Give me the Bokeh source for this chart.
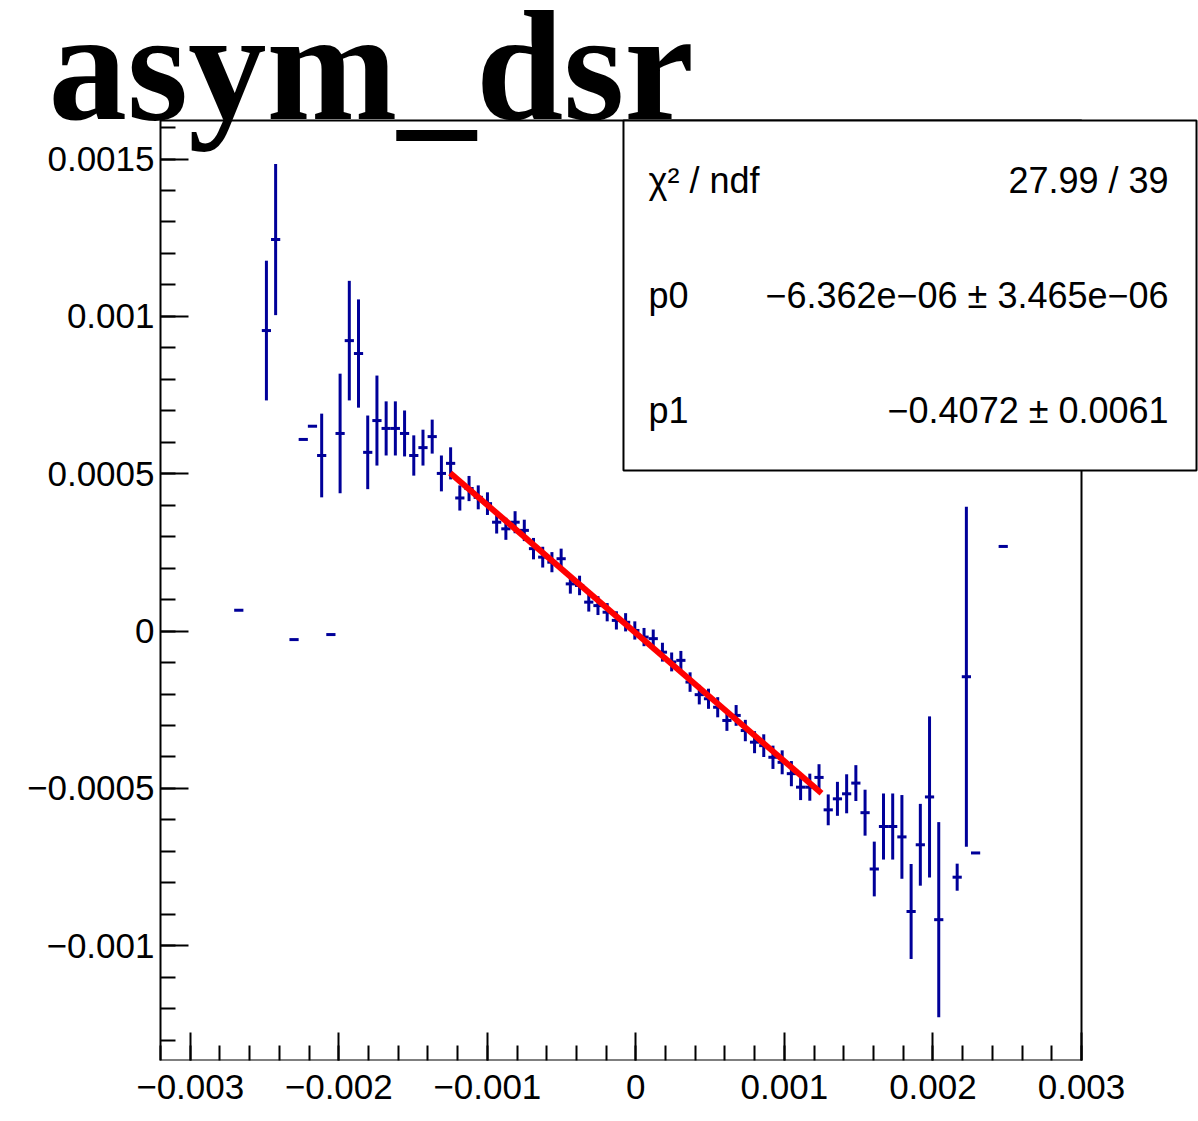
import numpy as np
from bokeh.plotting import figure
from bokeh.models import FixedTicker, Label, BoxAnnotation, Range1d, ColumnDataSource
from bokeh.embed import file_html
from bokeh.resources import INLINE

# ---------------- data ----------------
title_text = "asym_dsr"

x_centers = [
    -0.002673, -0.002487, -0.002425, -0.002301, -0.002239, -0.002177, -0.002115, -0.002053,
    -0.001991, -0.001929, -0.001867, -0.001805, -0.001743, -0.001681, -0.001619, -0.001557,
    -0.001495, -0.001433, -0.001371, -0.001309, -0.001247, -0.001185, -0.001123, -0.001061,
    -0.000999, -0.000937, -0.000875, -0.000813, -0.000751, -0.000689, -0.000627, -0.000565,
    -0.000503, -0.000441, -0.000379, -0.000317, -0.000255, -0.000193, -0.000131, -0.000069,
    -0.000007, 0.000055, 0.000117, 0.000179, 0.000241, 0.000303, 0.000365, 0.000427,
    0.000489, 0.000551, 0.000613, 0.000675, 0.000737, 0.000799, 0.000861, 0.000923,
    0.000985, 0.001047, 0.001109, 0.001171, 0.001233, 0.001295, 0.001357, 0.001419,
    0.001481, 0.001543, 0.001605, 0.001667, 0.001729, 0.001791, 0.001853, 0.001915,
    0.001977, 0.002039, 0.002163, 0.002225, 0.002287, 0.002473,
]

y_values = [
    0.000066, 0.000955, 0.001244, -0.000027, 0.000609, 0.000651, 0.000558, -0.000011,
    0.000628, 0.000923, 0.000882, 0.000568, 0.000669, 0.000644, 0.000644, 0.000628,
    0.000558, 0.000583, 0.000618, 0.000501, 0.000533, 0.000423, 0.000453, 0.000425,
    0.000405, 0.000346, 0.000325, 0.000346, 0.000320, 0.000262, 0.000235, 0.000219,
    0.000230, 0.000150, 0.000145, 0.000092, 0.000081, 0.000060, 0.000034, 0.000028,
    0.000002, -0.000019, -0.000024, -0.000067, -0.000098, -0.000093, -0.000162, -0.000202,
    -0.000215, -0.000242, -0.000284, -0.000268, -0.000316, -0.000353, -0.000364, -0.000401,
    -0.000417, -0.000453, -0.000496, -0.000496, -0.000465, -0.000568, -0.000533, -0.000517,
    -0.000483, -0.000577, -0.000756, -0.000621, -0.000621, -0.000654, -0.000891, -0.000679,
    -0.000527, -0.000917, -0.000782, -0.000145, -0.000705, 0.000269,
]

y_errors = [
    0.0, 0.000222, 0.000240, 0.0, 0.0, 0.0, 0.000133, 0.0,
    0.000190, 0.000190, 0.000172, 0.000117, 0.000143, 0.000086, 0.000086, 0.000073,
    0.000064, 0.000057, 0.000054, 0.000057, 0.000051, 0.000040, 0.000040, 0.000038,
    0.000036, 0.000036, 0.000035, 0.000035, 0.000034, 0.000034, 0.000033, 0.000032,
    0.000032, 0.000031, 0.000031, 0.000030, 0.000030, 0.000029, 0.000029, 0.000029,
    0.000029, 0.000029, 0.000029, 0.000030, 0.000030, 0.000030, 0.000031, 0.000031,
    0.000032, 0.000032, 0.000033, 0.000033, 0.000034, 0.000035, 0.000036, 0.000037,
    0.000038, 0.000040, 0.000041, 0.000043, 0.000042, 0.000049, 0.000054, 0.000062,
    0.000057, 0.000073, 0.000087, 0.000105, 0.000105, 0.000133, 0.000151, 0.000130,
    0.000256, 0.000310, 0.000043, 0.000540, 0.0, 0.0,
]

bin_half_width = 0.000031

fit_p0 = -6.362e-06
fit_p1 = -0.4072
fit_range = [-0.00125, 0.00125]

stats_labels = ["\u03c7\u00b2 / ndf", "p0", "p1"]
stats_values = ["27.99 / 39",
                "\u22126.362e\u221206 \u00b1 3.465e\u221206",
                "\u22120.4072 \u00b1 0.0061"]

x_ticks = [-0.003, -0.002, -0.001, 0.0, 0.001, 0.002, 0.003]
x_tick_labels = ["\u22120.003", "\u22120.002", "\u22120.001", "0", "0.001", "0.002", "0.003"]
y_ticks = [-0.001, -0.0005, 0.0, 0.0005, 0.001, 0.0015]
y_tick_labels = ["\u22120.001", "\u22120.0005", "0", "0.0005", "0.001", "0.0015"]

# histogram frame (axis ranges) and the wider drawing area around it
hist_x = [-0.0032, 0.003]
hist_y = [-0.0013645, 0.0016225]
view_x = [-0.0042771, 0.0037876]
view_y = [-0.0013645, 0.0020038]

# ---------------- figure ----------------
p = figure(width=1198, height=1121, output_backend="svg", toolbar_location=None,
           x_range=Range1d(*view_x), y_range=Range1d(*view_y),
           min_border_left=0, min_border_right=0, min_border_top=0, min_border_bottom=61)
p.xgrid.visible = False
p.ygrid.visible = False
p.background_fill_color = "white"
p.border_fill_color = "white"
p.outline_line_color = None

p.xaxis.ticker = FixedTicker(ticks=x_ticks,
                             minor_ticks=list(np.round(np.arange(-0.0032, 0.00301, 0.0002), 6)))
p.xaxis.major_label_overrides = {t: l for t, l in zip(x_ticks, x_tick_labels)}
p.yaxis.ticker = FixedTicker(ticks=y_ticks,
                             minor_ticks=list(np.round(np.arange(-0.0013, 0.00162, 0.0001), 6)))
p.yaxis.major_label_overrides = {t: l for t, l in zip(y_ticks, y_tick_labels)}
p.yaxis.fixed_location = hist_x[0]

for ax in (p.xaxis, p.yaxis):
    ax.axis_line_color = None
    ax.major_tick_in = 28
    ax.major_tick_out = 0
    ax.minor_tick_in = 15
    ax.minor_tick_out = 0
    ax.major_tick_line_width = 2
    ax.minor_tick_line_width = 2
    ax.major_tick_line_color = "black"
    ax.minor_tick_line_color = "black"
    ax.major_label_text_font = "Liberation Sans"
    ax.major_label_text_font_size = "35px"
    ax.major_label_text_color = "black"
p.xaxis.major_label_standoff = 14
p.yaxis.major_label_standoff = 6

# frame of the histogram
p.quad(left=[hist_x[0]], right=[hist_x[1]], bottom=[hist_y[0]], top=[hist_y[1]],
       fill_color=None, line_color="black", line_width=2)

# ---------------- data glyphs ----------------
xc = np.array(x_centers)
yv = np.array(y_values)
ye = np.array(y_errors)
src = ColumnDataSource(dict(x=xc, y=yv, ylo=yv - ye, yhi=yv + ye,
                            xl=xc - bin_half_width, xr=xc + bin_half_width))
blue = "#000099"
p.segment(x0="xl", y0="y", x1="xr", y1="y", source=src, line_color=blue, line_width=3)
p.segment(x0="x", y0="ylo", x1="x", y1="yhi", source=src, line_color=blue, line_width=3)

fx = np.array(fit_range)
p.line(fx, fit_p0 + fit_p1 * fx, line_color="#ff0000", line_width=6)

# ---------------- title ----------------
p.add_layout(Label(x=-0.003954, y=0.0017942, text=title_text, text_font="Liberation Serif",
                   text_font_style="bold", text_font_size="157px", text_color="black",
                   text_baseline="alphabetic", text_align="left"))

# ---------------- stats box ----------------
p.add_layout(BoxAnnotation(left=-0.0000833, right=0.0037742, top=hist_y[1], bottom=0.000510,
                           fill_color="white", fill_alpha=1.0, line_color="black",
                           line_alpha=1.0, line_width=2))
row_y = [0.001432, 0.001066, 0.000701]
for lab, val, yy in zip(stats_labels, stats_values, row_y):
    p.add_layout(Label(x=0.0000851, y=yy, text=lab, text_font="Liberation Sans",
                       text_font_size="36px", text_baseline="middle", text_align="left",
                       text_color="black"))
    p.add_layout(Label(x=0.003586, y=yy, text=val, text_font="Liberation Sans",
                       text_font_size="36px", text_baseline="middle", text_align="right",
                       text_color="black"))

open("out.html", "w").write(file_html(p, INLINE))
